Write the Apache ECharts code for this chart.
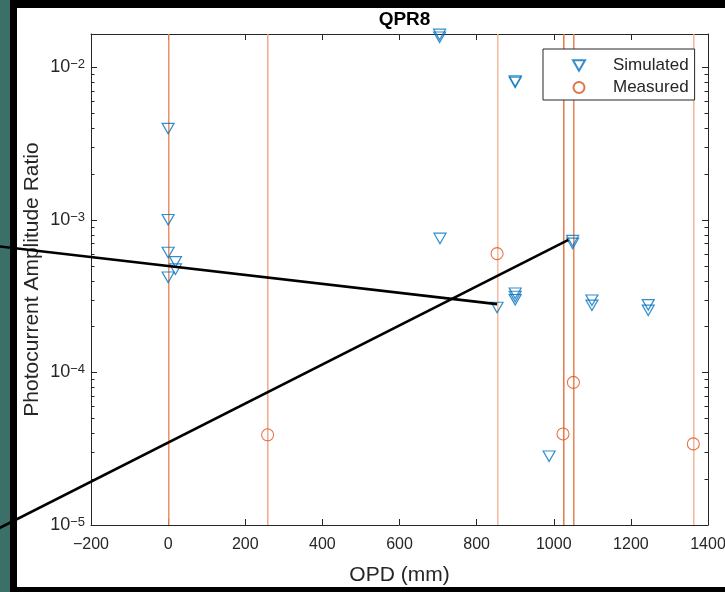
<!DOCTYPE html>
<html>
<head>
<meta charset="utf-8">
<script src="https://cdn.jsdelivr.net/npm/echarts@6/dist/echarts.min.js"></script>
<style>
  html, body { margin: 0; padding: 0; background: #000; }
  #wrap { position: relative; width: 725px; height: 592px; overflow: hidden; background: #000; }
  #teal { position: absolute; left: 0; top: 0; width: 10px; height: 592px; background: #3b7068; }
  #paper { position: absolute; left: 17px; top: 8px; width: 708px; height: 579px; background: #fff; }
  #chart { position: absolute; left: 0; top: 0; width: 725px; height: 592px; }
</style>
</head>
<body>
<div id="wrap">
  <div id="teal"></div>
  <div id="paper"></div>
  <div id="chart"></div>
</div>
<script>
// ---- data ----
const simulatedOPD = [0, 0, 0, 0, 19, 19, 704, 704, 900, 900, 705, 853, 900, 900, 900, 1049, 1049, 988, 1099, 1099, 1245, 1245];
const simulatedRatio = [3.96e-3, 1.0e-3, 6.1e-4, 4.2e-4, 5.3e-4, 4.75e-4, 0.0164, 0.0157, 8.1e-3, 7.95e-3, 7.55e-4, 2.66e-4, 3.3e-4, 3.14e-4, 2.99e-4, 7.3e-4, 7.0e-4, 2.82e-5, 2.97e-4, 2.75e-4, 2.77e-4, 2.55e-4];
const measuredOPD = [258, 853, 1024, 1051, 1362];
const measuredRatio = [3.9e-5, 6.0e-4, 3.95e-5, 8.6e-5, 3.4e-5];
// vertical reference lines (OPD positions) and their colours
const vlineOPD = [0, 258, 853, 1024, 1051, 1362];
const vlineColor = ['#E8875F', '#F0A281', '#F4B598', '#E2713F', '#E47B4B', '#F3B093'];
// hand-drawn black pointer lines (endpoints in data units)
const pointer1OPD = [-450, 853];
const pointer1Ratio = [6.75e-4, 2.8e-4];
const pointer2OPD = [-450, 1038];
const pointer2Ratio = [9.2e-6, 7.39e-4];
// axes
const xMin = -200, xMax = 1400, xStep = 200;
const yMin = 1e-5, yMax = 0.0165;
const minorMantissa = [2, 3, 4, 5, 6, 7, 8, 9];
const minorDecades = [1e-5, 1e-4, 1e-3];

const FONT = 'Liberation Sans, Arial, Helvetica, sans-serif';
const AX = '#262626';
const BLUE = '#0072BD';
const ORANGE = '#D95319';
const MINUS = '\u2212';

const minorTicks = [];
minorDecades.forEach(d => minorMantissa.forEach(m => { const v = m * d; if (v < yMax) minorTicks.push([xMin, v]); }));

function zip(a, b) { return a.map((v, i) => [v, b[i]]); }

const chart = echarts.init(document.getElementById('chart'), null, { renderer: 'canvas' });

const supLabel = v => {
  const e = Math.round(Math.log10(v));
  return '{b|10}{e|' + (e < 0 ? MINUS + (-e) : e) + '}';
};
const xLabel = v => (v < 0 ? MINUS + (-v) : String(v));

const pointerRender = (params, api) => {
  const p0 = api.coord([api.value(0), api.value(1)]);
  const p1 = api.coord([api.value(2), api.value(3)]);
  return {
    type: 'line',
    shape: { x1: p0[0], y1: p0[1], x2: p1[0], y2: p1[1] },
    style: { stroke: '#000', lineWidth: 2.6, lineCap: 'butt' }
  };
};

const option = {
  animation: false,
  backgroundColor: 'transparent',
  textStyle: { fontFamily: FONT },
  title: {
    text: 'QPR8', left: 399.5, top: 5, textAlign: 'center',
    textStyle: { fontSize: 19, fontWeight: 'bold', color: '#000', fontFamily: FONT }
  },
  grid: { left: 91, top: 34, right: 17, bottom: 67, containLabel: false, outerBoundsMode: 'none' },
  legend: {
    orient: 'vertical', left: 543, top: 49,
    padding: [8, 6, 4, 29],
    itemWidth: 12, itemHeight: 11, itemGap: 5,
    backgroundColor: '#fff', borderColor: AX, borderWidth: 1, borderRadius: 0,
    data: [
      { name: 'Simulated', icon: 'path://M0,0L12,0L6,10.4Z' },
      { name: 'Measured', icon: 'circle' }
    ],
    formatter: name => '{g|}{t|' + name + '}',
    textStyle: {
      fontFamily: FONT, fontSize: 17, color: AX, lineHeight: 17,
      rich: { g: { width: 23 }, t: { fontSize: 17, color: AX, fontFamily: FONT, lineHeight: 17 } }
    }
  },
  xAxis: [
    {
      type: 'value', position: 'bottom', min: xMin, max: xMax, interval: xStep,
      name: 'OPD (mm)', nameLocation: 'middle', nameGap: 40,
      nameTextStyle: { fontSize: 21, color: AX, fontFamily: FONT },
      axisLine: { show: true, onZero: false, lineStyle: { color: AX, width: 1 } },
      axisTick: { show: true, inside: true, length: 6, lineStyle: { color: AX } },
      axisLabel: { fontSize: 16, color: AX, margin: 12, fontFamily: FONT, formatter: xLabel, hideOverlap: false },
      splitLine: { show: false }
    },
    {
      type: 'value', position: 'top', min: xMin, max: xMax, interval: xStep,
      axisLine: { show: true, onZero: false, lineStyle: { color: AX, width: 1 } },
      axisTick: { show: true, inside: true, length: 6, lineStyle: { color: AX } },
      axisLabel: { show: false }, splitLine: { show: false }
    }
  ],
  yAxis: [
    {
      type: 'log', logBase: 10, min: yMin, max: yMax, position: 'left',
      name: 'Photocurrent Amplitude Ratio', nameLocation: 'middle', nameGap: 48.5, nameMoveOverlap: false,
      nameTextStyle: { fontSize: 21, color: AX, fontFamily: FONT },
      axisLine: { show: true, onZero: false, lineStyle: { color: AX, width: 1 } },
      axisTick: { show: true, inside: true, length: 6, lineStyle: { color: AX } },
      axisLabel: {
        showMaxLabel: false, margin: 6, formatter: supLabel,
        rich: {
          b: { fontSize: 18, color: AX, fontFamily: FONT, verticalAlign: 'bottom', lineHeight: 18 },
          e: { fontSize: 13, color: AX, fontFamily: FONT, verticalAlign: 'top', lineHeight: 13, padding: [0, 0, 10, 0] }
        }
      },
      splitLine: { show: false }, minorTick: { show: false }
    },
    {
      type: 'log', logBase: 10, min: yMin, max: yMax, position: 'right',
      axisLine: { show: true, onZero: false, lineStyle: { color: AX, width: 1 } },
      axisTick: { show: true, inside: true, length: 6, lineStyle: { color: AX } },
      axisLabel: { show: false }, splitLine: { show: false }
    }
  ],
  series: [
    {
      name: 'minor ticks', type: 'custom', xAxisIndex: 0, yAxisIndex: 0, silent: true, clip: false, z: 1,
      data: minorTicks,
      renderItem: (params, api) => {
        const v = api.value(1);
        const l = api.coord([xMin, v]);
        const r = api.coord([xMax, v]);
        const y = Math.round(l[1]) + 0.5;
        return {
          type: 'group', children: [
            { type: 'line', shape: { x1: l[0], y1: y, x2: l[0] + 3.5, y2: y }, style: { stroke: AX, lineWidth: 1 } },
            { type: 'line', shape: { x1: r[0] - 3.5, y1: y, x2: r[0], y2: y }, style: { stroke: AX, lineWidth: 1 } }
          ]
        };
      }
    },
    {
      name: 'reference lines', type: 'custom', silent: true, clip: false, z: 2,
      data: vlineOPD.map((x, i) => [x, yMin, i]),
      renderItem: (params, api) => {
        const b = api.coord([api.value(0), yMin]);
        const t = api.coord([api.value(0), yMax]);
        const x = Math.floor(b[0]) + 0.8;
        return {
          type: 'line',
          shape: { x1: x, y1: b[1], x2: x, y2: t[1] },
          style: { stroke: vlineColor[api.value(2)], lineWidth: 1.4 }
        };
      }
    },
    {
      name: 'Measured', type: 'scatter', z: 3,
      data: zip(measuredOPD, measuredRatio),
      symbol: 'circle', symbolSize: 12,
      itemStyle: { color: 'rgba(0,0,0,0)', borderColor: ORANGE, borderWidth: 1.1 }
    },
    {
      name: 'Simulated', type: 'scatter', z: 4,
      data: zip(simulatedOPD, simulatedRatio),
      symbol: 'triangle', symbolRotate: 180, symbolSize: [12, 10.5],
      itemStyle: { color: 'rgba(0,0,0,0)', borderColor: BLUE, borderWidth: 1.2 }
    },
    {
      name: 'pointer1', type: 'custom', z: 6, clip: false, silent: true,
      encode: { x: [0, 2], y: [1, 3] },
      data: [[pointer1OPD[0], pointer1Ratio[0], pointer1OPD[1], pointer1Ratio[1]]],
      renderItem: pointerRender
    },
    {
      name: 'pointer2', type: 'custom', z: 6, clip: false, silent: true,
      encode: { x: [0, 2], y: [1, 3] },
      data: [[pointer2OPD[0], pointer2Ratio[0], pointer2OPD[1], pointer2Ratio[1]]],
      renderItem: pointerRender
    }
  ]
};
chart.setOption(option);
</script>
</body>
</html>
